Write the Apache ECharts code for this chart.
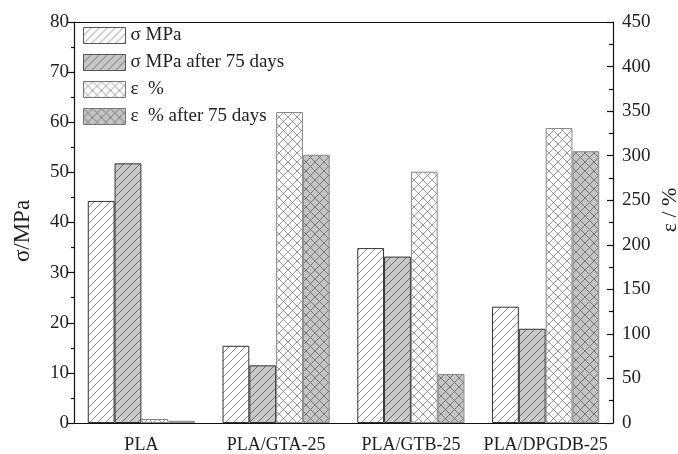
<!DOCTYPE html>
<html>
<head>
<meta charset="utf-8">
<script src="https://cdn.jsdelivr.net/npm/echarts@6/dist/echarts.min.js"></script>
<style>html,body{margin:0;padding:0;background:#fff;}#c{width:678px;height:454px;}</style>
</head>
<body>
<div id="c"></div>
<script>
var categories = ['PLA', 'PLA/GTA-25', 'PLA/GTB-25', 'PLA/DPGDB-25'];
var sigma = [44.3, 15.4, 34.9, 23.2];
var sigma75 = [51.8, 11.5, 33.2, 18.8];
var eps = [4.5, 349, 282, 331];
var eps75 = [2.5, 301, 55, 305];
var seriesNames = ['σ MPa', 'σ MPa after 75 days', 'ε  %', 'ε  % after 75 days'];

function makePattern(bg, line, cross, size) {
  var c = document.createElement('canvas');
  c.width = size; c.height = size;
  var g = c.getContext('2d');
  g.fillStyle = bg; g.fillRect(0, 0, size, size);
  g.strokeStyle = line; g.lineWidth = 0.8;
  g.beginPath();
  g.moveTo(-1, size + 1); g.lineTo(size + 1, -1);
  g.moveTo(-1, 1); g.lineTo(1, -1);
  g.moveTo(size - 1, size + 1); g.lineTo(size + 1, size - 1);
  if (cross) {
    g.moveTo(-1, -1); g.lineTo(size + 1, size + 1);
    g.moveTo(size - 1, -1); g.lineTo(size + 1, 1);
    g.moveTo(-1, size - 1); g.lineTo(1, size + 1);
  }
  g.stroke();
  return { image: c, repeat: 'repeat' };
}

var pS = makePattern('#ffffff', '#707070', false, 8);
var pS75 = makePattern('#c8c8c8', '#555555', false, 8);
var pE = makePattern('#ffffff', '#808080', true, 9);
var pE75 = makePattern('#c4c4c4', '#666666', true, 9);

var font = 'Liberation Serif';
var chart = echarts.init(document.getElementById('c'));
var barW = 26.8;
chart.setOption({
  animation: false,
  backgroundColor: '#fff',
  grid: { left: 74, right: 65, top: 22, bottom: 30, containLabel: false },
  legend: {
    left: 83, top: 26, padding: 0, orient: 'vertical', itemWidth: 42, itemHeight: 16, itemGap: 8,
    icon: 'rect',
    textStyle: { fontFamily: font, fontSize: 19, lineHeight: 16, color: '#222' },
    data: [
      { name: seriesNames[0], itemStyle: { borderColor: '#555', borderWidth: 1 } },
      { name: seriesNames[1], itemStyle: { borderColor: '#555', borderWidth: 1 } },
      { name: seriesNames[2], itemStyle: { borderColor: '#777', borderWidth: 1 } },
      { name: seriesNames[3], itemStyle: { borderColor: '#777', borderWidth: 1 } }
    ]
  },
  xAxis: [
    {
      type: 'category', data: categories, position: 'bottom',
      axisLine: { lineStyle: { color: '#111', width: 1.2 } },
      axisTick: { alignWithLabel: true, length: 6, lineStyle: { color: '#111', width: 1.2 } },
      axisLabel: { interval: 0, fontFamily: font, fontSize: 18, color: '#222', margin: 13 }
    },
    {
      type: 'category', data: categories, position: 'bottom', gridIndex: 0,
      axisLine: { show: false },
      axisTick: { length: 4, lineStyle: { color: '#111', width: 1.2 } },
      axisLabel: { show: false }
    },
    {
      type: 'category', data: categories, position: 'top',
      axisLine: { lineStyle: { color: '#111', width: 1.2 } },
      axisTick: { show: false }, axisLabel: { show: false }
    }
  ],
  yAxis: [
    {
      type: 'value', min: 0, max: 80, interval: 10, position: 'left',
      axisLine: { show: true, lineStyle: { color: '#111', width: 1.2 } },
      axisTick: { show: true, length: 6, lineStyle: { color: '#111', width: 1.2 } },
      minorTick: { show: true, splitNumber: 2, length: 3, lineStyle: { color: '#111', width: 1.2 } },
      splitLine: { show: false },
      axisLabel: { fontFamily: font, fontSize: 19, color: '#222', margin: 5 }
    },
    {
      type: 'value', min: 0, max: 450, interval: 50, position: 'right',
      axisLine: { show: true, lineStyle: { color: '#111', width: 1.2 } },
      axisTick: { show: true, inside: true, length: 6, lineStyle: { color: '#111', width: 1.2 } },
      minorTick: { show: true, splitNumber: 2, length: 4, lineStyle: { color: '#111', width: 1.2 } },
      splitLine: { show: false },
      axisLabel: { fontFamily: font, fontSize: 19, color: '#222', margin: 9 }
    }
  ],
  series: [
    { name: seriesNames[0], type: 'bar', xAxisIndex: 0, yAxisIndex: 0, data: sigma, barWidth: barW, barGap: '0%',
      itemStyle: { color: pS, borderColor: '#333', borderWidth: 1 } },
    { name: seriesNames[1], type: 'bar', xAxisIndex: 0, yAxisIndex: 0, data: sigma75, barWidth: barW, barGap: '0%',
      itemStyle: { color: pS75, borderColor: '#333', borderWidth: 1 } },
    { name: seriesNames[2], type: 'bar', xAxisIndex: 0, yAxisIndex: 1, data: eps, barWidth: barW, barGap: '0%',
      itemStyle: { color: pE, borderColor: '#8a8a8a', borderWidth: 1 } },
    { name: seriesNames[3], type: 'bar', xAxisIndex: 0, yAxisIndex: 1, data: eps75, barWidth: barW, barGap: '0%',
      itemStyle: { color: pE75, borderColor: '#8a8a8a', borderWidth: 1 } }
  ],
  graphic: [
    { type: 'text', rotation: Math.PI / 2, x: 23, y: 231,
      style: { text: 'σ/MPa', font: '23px "Liberation Serif"', fill: '#222', align: 'center', verticalAlign: 'middle' } },
    { type: 'text', rotation: Math.PI / 2, x: 670, y: 210,
      style: { text: 'ε / %', font: '22px "Liberation Serif"', fill: '#222', align: 'center', verticalAlign: 'middle' } }
  ]
});
</script>
</body>
</html>
